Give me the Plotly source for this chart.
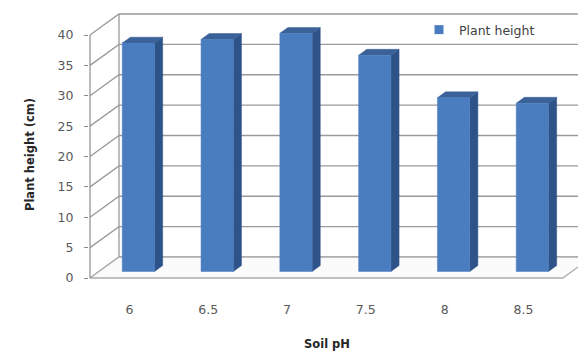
import plotly.graph_objects as go

# Soil pH levels and measured plant height (cm)
soil_ph = ["6", "6.5", "7", "7.5", "8", "8.5"]
plant_height = [37.6, 38.2, 39.2, 35.6, 28.6, 27.7]
y_ticks = [0, 5, 10, 15, 20, 25, 30, 35, 40]

# Oblique "3-D" projection: depth is drawn as an offset in data units
DX, DY = 0.368, 3.457          # full floor depth
F0, F1 = 0.31, 0.59            # bar front / back position inside the depth
BAR_W = 0.41
X_LEFT = -0.5
X_RIGHT = len(soil_ph) - 0.5
PX_PER_X = 78.8
PX_PER_Y = 6.075

GRID = "#9a9a9a"
FRONT = "#4a7dc0"
SIDE = "#2e5388"
TOP = "#3a6299"


def polys(list_of_pts):
    xs, ys = [], []
    for pts in list_of_pts:
        for x, y in pts + [pts[0]]:
            xs.append(x)
            ys.append(y)
        xs.append(None)
        ys.append(None)
    return xs, ys


def lines(list_of_pts):
    xs, ys = [], []
    for pts in list_of_pts:
        for x, y in pts:
            xs.append(x)
            ys.append(y)
        xs.append(None)
        ys.append(None)
    return xs, ys


fig = go.Figure()
top_val = y_ticks[-1]
x_max = X_RIGHT + DX + 0.2

# walls
wx, wy = polys([
    [(X_LEFT, 0), (X_LEFT + DX, DY), (X_LEFT + DX, top_val + DY), (X_LEFT, top_val)],
    [(X_LEFT + DX, DY), (x_max, DY), (x_max, top_val + DY), (X_LEFT + DX, top_val + DY)],
])
fig.add_trace(go.Scatter(x=wx, y=wy, fill="toself", fillcolor="white", mode="lines",
                         line=dict(width=0), hoverinfo="skip", showlegend=False))

# gridlines on side wall and back wall
gl = [[(X_LEFT, v), (X_LEFT + DX, v + DY), (x_max, v + DY)] for v in y_ticks]
gl.append([(X_LEFT + DX, DY), (X_LEFT + DX, top_val + DY)])
gx, gy = lines(gl)
fig.add_trace(go.Scatter(x=gx, y=gy, mode="lines", line=dict(color=GRID, width=1.3),
                         hoverinfo="skip", showlegend=False))

# floor
fx, fy = polys([[(X_LEFT, 0), (X_RIGHT, 0), (X_RIGHT + DX, DY), (X_LEFT + DX, DY)]])
fig.add_trace(go.Scatter(x=fx, y=fy, fill="toself", fillcolor="#fbfbfb", mode="lines",
                         line=dict(color="#adadad", width=1.3), hoverinfo="skip",
                         showlegend=False))

# value axis line
fig.add_trace(go.Scatter(x=[X_LEFT, X_LEFT], y=[0, top_val], mode="lines",
                         line=dict(color="#8c8c8c", width=1.2), hoverinfo="skip",
                         showlegend=False))

# bars
b0 = F0 * DY
ddx = (F1 - F0) * DX
ddy = (F1 - F0) * DY
fronts, sides, tops = [], [], []
for i, v in enumerate(plant_height):
    x0 = i - BAR_W / 2 + F0 * DX
    x1 = i + BAR_W / 2 + F0 * DX
    fronts.append([(x0, b0), (x1, b0), (x1, v + b0), (x0, v + b0)])
    sides.append([(x1, b0), (x1 + ddx, b0 + ddy), (x1 + ddx, v + b0 + ddy), (x1, v + b0)])
    tops.append([(x0, v + b0), (x1, v + b0), (x1 + ddx, v + b0 + ddy), (x0 + ddx, v + b0 + ddy)])

for faces, col in [(sides, SIDE), (tops, TOP), (fronts, FRONT)]:
    px_, py_ = polys(faces)
    fig.add_trace(go.Scatter(x=px_, y=py_, fill="toself", fillcolor=col, mode="lines",
                             line=dict(color=col, width=0.5), hoverinfo="skip",
                             showlegend=False))

# legend entry
fig.add_trace(go.Scatter(x=[None], y=[None], mode="markers", name="Plant height",
                         marker=dict(symbol="square", size=9, color=FRONT)))

plot_left, plot_top, plot_bottom = 89, 10, 290
x_lo = X_LEFT - (90 - plot_left) / PX_PER_X
x_hi = x_lo + (578 - plot_left) / PX_PER_X
y_lo = -(plot_bottom - 278) / PX_PER_Y
y_hi = (278 - plot_top) / PX_PER_Y

tick_font = dict(family="DejaVu Sans", size=12.5, color="#595959")
fig.update_layout(
    width=578, height=354, autosize=False,
    margin=dict(l=plot_left, r=0, t=plot_top, b=354 - plot_bottom),
    paper_bgcolor="white", plot_bgcolor="white",
    font=dict(family="DejaVu Sans", color="#404040"),
    xaxis=dict(range=[x_lo, x_hi], tickvals=list(range(len(soil_ph))), ticktext=soil_ph,
               showgrid=False, zeroline=False, showline=False, ticks="",
               tickfont=tick_font, ticklabelstandoff=10, fixedrange=True),
    yaxis=dict(range=[y_lo, y_hi], tickvals=y_ticks, showgrid=False, zeroline=False,
               showline=False, ticks="outside", ticklen=4, tickcolor="#8c8c8c",
               tickfont=tick_font, ticklabelstandoff=8, fixedrange=True),
    legend=dict(x=(419 - plot_left) / (578 - plot_left), y=(plot_bottom - 30) / (plot_bottom - plot_top),
                xanchor="left", yanchor="middle", bgcolor="rgba(0,0,0,0)",
                font=dict(family="DejaVu Sans", size=12.5, color="#404040"),
                itemwidth=30),
    annotations=[
        dict(text="<b>Soil pH</b>", xref="paper", yref="paper",
             x=(327 - plot_left) / (578 - plot_left),
             y=(plot_bottom - 344) / (plot_bottom - plot_top),
             showarrow=False, xanchor="center", yanchor="middle",
             font=dict(family="DejaVu Sans", size=11.5, color="#262626")),
        dict(text="<b>Plant height (cm)</b>", xref="paper", yref="paper",
             x=(30 - plot_left) / (578 - plot_left),
             y=(plot_bottom - 155) / (plot_bottom - plot_top),
             textangle=-90, showarrow=False, xanchor="center", yanchor="middle",
             font=dict(family="DejaVu Sans", size=11.5, color="#262626")),
    ],
)

fig.write_html("out.html")
